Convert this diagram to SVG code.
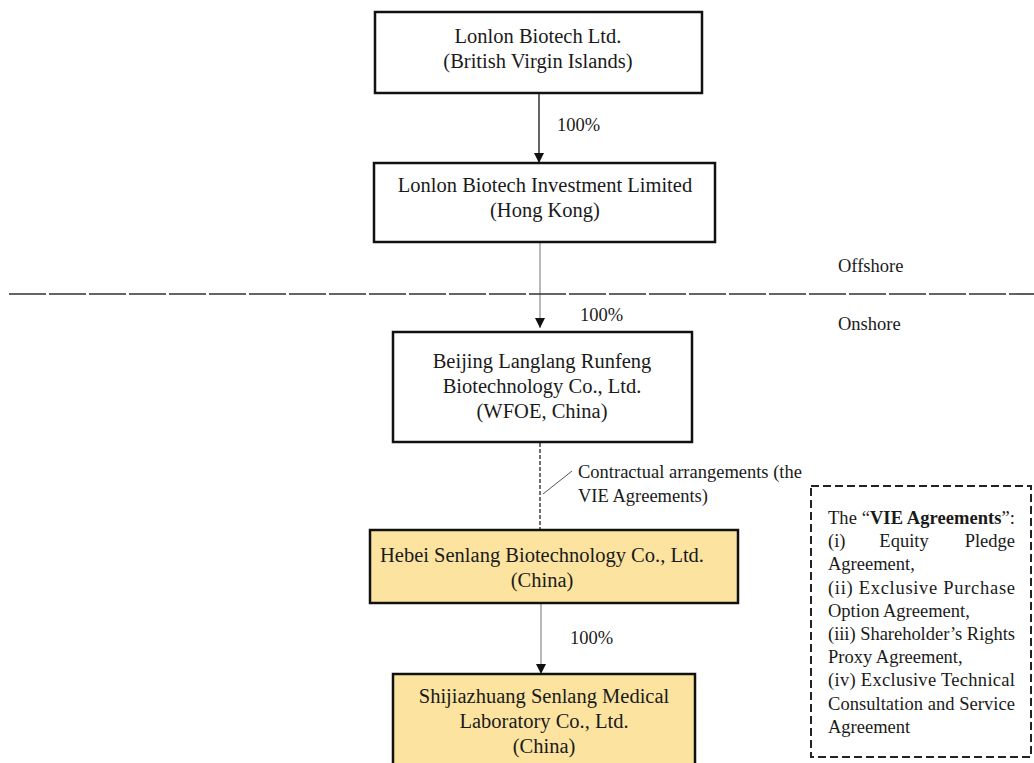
<svg xmlns="http://www.w3.org/2000/svg" width="1034" height="763" viewBox="0 0 1034 763">
<style>
text{font-family:"Liberation Serif","Times New Roman",serif;fill:#1a1a1a}
.n{font-size:20.5px;text-anchor:middle}
.l{font-size:18.5px}
.v{font-size:18.5px}
.box{fill:#fff;stroke:#111;stroke-width:2.5}
.yel{fill:#fce4a0;stroke:#111;stroke-width:2.5}
.ar{stroke:#111;stroke-width:1.3;fill:none}
.ag{stroke:#8a8a8a;stroke-width:1.2;fill:none}
</style>
<defs>
<marker id="ah" viewBox="0 0 10 10" refX="10" refY="5" markerWidth="10" markerHeight="10" markerUnits="userSpaceOnUse" orient="auto">
<path d="M0,0 L10,5 L0,10 z" fill="#111"/>
</marker>
</defs>
<rect width="1034" height="763" fill="#fff"/>
<g id="connectors">
<line class="ar" x1="539" y1="93" x2="539" y2="163" marker-end="url(#ah)"/>
<line class="ag" x1="540" y1="242" x2="540" y2="328" marker-end="url(#ah)"/>
<line x1="540" y1="443" x2="540" y2="530" stroke="#111" stroke-width="1.2" stroke-dasharray="4,2"/>
<line x1="543" y1="494" x2="572" y2="471" stroke="#555" stroke-width="1"/>
<line class="ag" x1="541" y1="603" x2="541" y2="674" marker-end="url(#ah)"/>
<text class="l" x="557" y="131">100%</text>
<text class="l" x="580" y="321">100%</text>
<text class="l" x="570" y="644">100%</text>
<text class="l" x="578" y="478">Contractual arrangements (the</text>
<text class="l" x="578" y="502">VIE Agreements)</text>
</g>
<g id="divider">
<line x1="9" y1="294" x2="1034" y2="294" stroke="#333" stroke-width="1.6" stroke-dasharray="37,3"/>
<text class="l" x="838" y="272">Offshore</text>
<text class="l" x="838" y="330">Onshore</text>
</g>
<g id="n1">
<rect class="box" x="375" y="12" width="327" height="81"/>
<text class="n" x="538" y="43">Lonlon Biotech Ltd.</text>
<text class="n" x="538" y="68">(British Virgin Islands)</text>
</g>
<g id="n2">
<rect class="box" x="374" y="163" width="341" height="79"/>
<text class="n" x="545" y="192">Lonlon Biotech Investment Limited</text>
<text class="n" x="545" y="217">(Hong Kong)</text>
</g>
<g id="n3">
<rect class="box" x="393" y="332" width="299" height="110"/>
<text class="n" x="542" y="368">Beijing Langlang Runfeng</text>
<text class="n" x="542" y="393">Biotechnology Co., Ltd.</text>
<text class="n" x="542" y="418">(WFOE, China)</text>
</g>
<g id="n4">
<rect class="yel" x="370" y="530" width="368" height="73"/>
<text class="n" x="542" y="562">Hebei Senlang Biotechnology Co., Ltd.</text>
<text class="n" x="542" y="587">(China)</text>
</g>
<g id="n5">
<rect class="yel" x="393" y="674" width="302" height="110"/>
<text class="n" x="544" y="703">Shijiazhuang Senlang Medical</text>
<text class="n" x="544" y="728">Laboratory Co., Ltd.</text>
<text class="n" x="544" y="753">(China)</text>
</g>
<g id="vie">
<rect x="811" y="486" width="220" height="271" fill="none" stroke="#222" stroke-width="2" stroke-dasharray="8,4"/>
<text class="v" x="828" y="524" textLength="187" lengthAdjust="spacing">The “<tspan font-weight="bold">VIE Agreements</tspan>”:</text>
<text class="v" x="828" y="547">(i)</text>
<text class="v" x="904" y="547" text-anchor="middle">Equity</text>
<text class="v" x="1015" y="547" text-anchor="end">Pledge</text>
<text class="v" x="828" y="570">Agreement,</text>
<text class="v" x="828" y="594" textLength="187" lengthAdjust="spacing">(ii) Exclusive Purchase</text>
<text class="v" x="828" y="617">Option Agreement,</text>
<text class="v" x="828" y="640" textLength="187" lengthAdjust="spacing">(iii) Shareholder’s Rights</text>
<text class="v" x="828" y="663">Proxy Agreement,</text>
<text class="v" x="828" y="686" textLength="187" lengthAdjust="spacing">(iv) Exclusive Technical</text>
<text class="v" x="828" y="710" textLength="187" lengthAdjust="spacing">Consultation and Service</text>
<text class="v" x="828" y="733">Agreement</text>
</g>
</svg>
